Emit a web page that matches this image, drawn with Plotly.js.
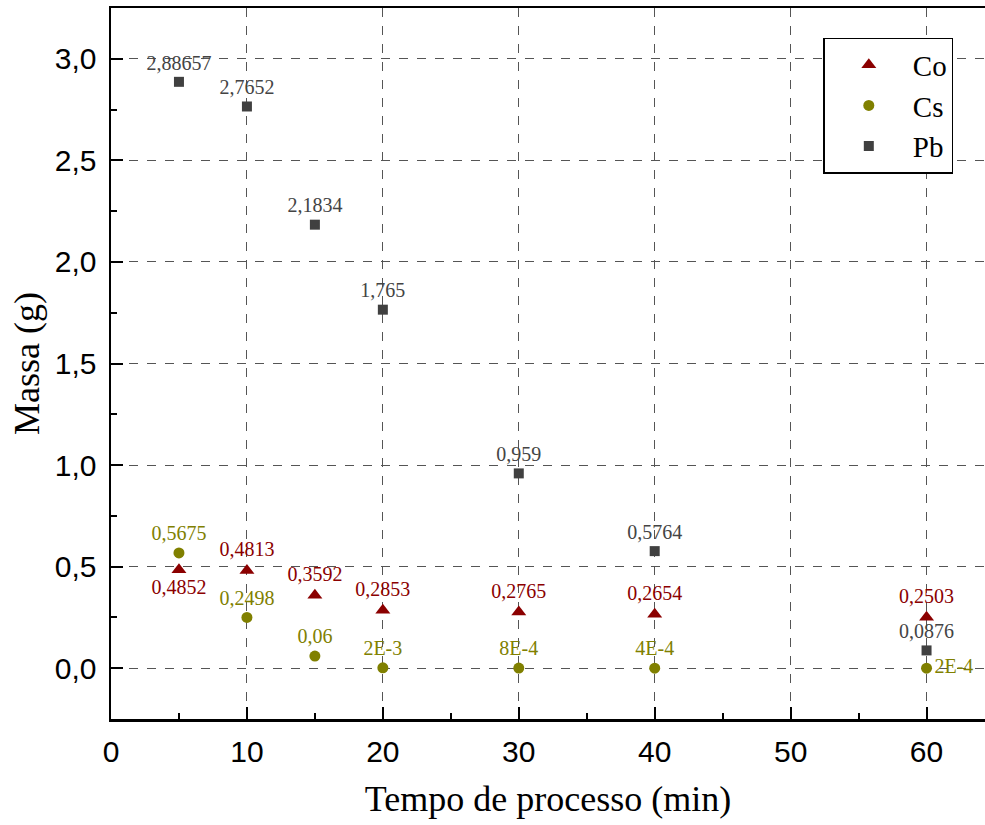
<!DOCTYPE html>
<html>
<head>
<meta charset="utf-8">
<script src="https://cdn.plot.ly/plotly-3.0.1.min.js"></script>
<style>html,body{margin:0;padding:0;background:#fff;}#chart{width:985px;height:825px;}</style>
</head>
<body>
<div id="chart"></div>
<script>
const time = [5, 10, 15, 20, 30, 40, 60];
const coValues = [0.4852, 0.4813, 0.3592, 0.2853, 0.2765, 0.2654, 0.2503];
const csValues = [0.5675, 0.2498, 0.06, 0.002, 0.0008, 0.0004, 0.0002];
const pbValues = [2.88657, 2.7652, 2.1834, 1.765, 0.959, 0.5764, 0.0876];
const coLabels = ['0,4852', '0,4813', '0,3592', '0,2853', '0,2765', '0,2654', '0,2503'];
const csLabels = ['0,5675', '0,2498', '0,06', '2E-3', '8E-4', '4E-4', '2E-4'];
const pbLabels = ['2,88657', '2,7652', '2,1834', '1,765', '0,959', '0,5764', '0,0876'];
const seriesNames = ['Co', 'Cs', 'Pb'];

const coColor = '#8b0000', csColor = '#808000', pbColor = '#404040';
const serif = 'Liberation Serif, Times New Roman, serif';
const labelFont = (c) => ({family: serif, size: 20, color: c});

const traces = [
  {x: time, y: coValues, name: seriesNames[0], mode: 'markers+text', type: 'scatter',
   marker: {symbol: 'triangle-up', size: 13, color: coColor},
   text: coLabels, textposition: ['bottom center','top center','top center','top center','top center','top center','top center'],
   textfont: labelFont(coColor), cliponaxis: false},
  {x: time, y: csValues, name: seriesNames[1], mode: 'markers+text', type: 'scatter',
   marker: {symbol: 'circle', size: 11, color: csColor},
   text: csLabels, textposition: ['top center','top center','top center','top center','top center','top center','middle right'],
   textfont: labelFont(csColor), cliponaxis: false},
  {x: time, y: pbValues, name: seriesNames[2], mode: 'markers+text', type: 'scatter',
   marker: {symbol: 'square', size: 10, color: pbColor},
   text: pbLabels, textposition: 'top center',
   textfont: labelFont('#444444'), cliponaxis: false}
];

const axisCommon = {
  showline: true, linecolor: '#000', linewidth: 2.5,
  ticks: 'inside', ticklen: 12, tickwidth: 2, tickcolor: '#000',
  showgrid: true, gridcolor: '#555', griddash: 'dash', gridwidth: 1,
  zeroline: false,
  tickfont: {family: 'Liberation Sans, Arial, sans-serif', size: 30, color: '#000'}
};

const layout = {
  width: 985, height: 825,
  margin: {l: 111, r: 0, t: 8, b: 106},
  paper_bgcolor: '#fff', plot_bgcolor: '#fff',
  separators: ',.',
  showlegend: true,
  legend: {x: 0.815, y: 0.958, xanchor: 'left', yanchor: 'top',
    bgcolor: '#fff', bordercolor: '#000', borderwidth: 1.5,
    font: {family: serif, size: 29, color: '#000'},
    itemwidth: 78},
  xaxis: Object.assign({}, axisCommon, {
    range: [0, 64.3], dtick: 10, tick0: 0, mirror: true,
    ticklabelstandoff: 4,
    minor: {dtick: 5, ticks: 'inside', ticklen: 6, tickwidth: 2, tickcolor: '#000', showgrid: false},
    title: {text: 'Tempo de processo (min)', standoff: 20,
      font: {family: serif, size: 36, color: '#000'}}
  }),
  yaxis: Object.assign({}, axisCommon, {
    range: [-0.25, 3.25], dtick: 0.5, tick0: 0, tickformat: '.1f',
    ticklabelstandoff: 6,
    minor: {dtick: 0.25, ticks: 'inside', ticklen: 6, tickwidth: 2, tickcolor: '#000', showgrid: false},
    title: {text: 'Massa (g)', standoff: 4,
      font: {family: serif, size: 36, color: '#000'}}
  })
};

Plotly.newPlot('chart', traces, layout, {displayModeBar: false, staticPlot: true});
</script>
</body>
</html>
